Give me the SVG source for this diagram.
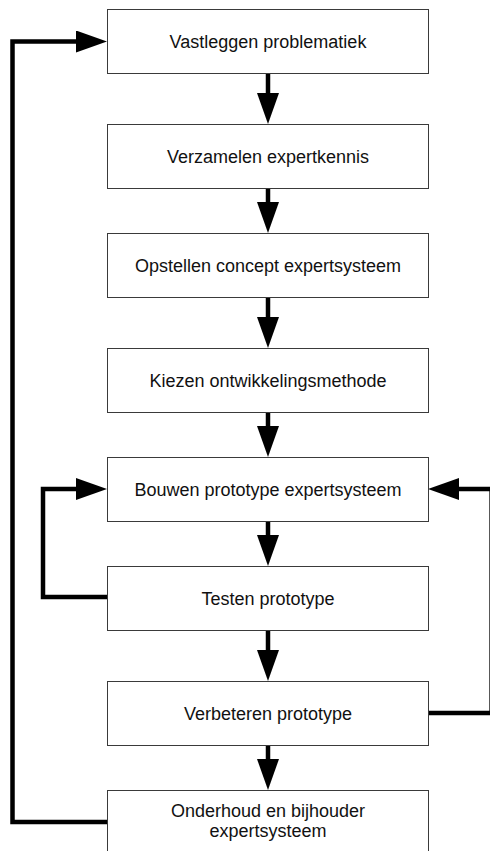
<svg xmlns="http://www.w3.org/2000/svg" width="490" height="851" viewBox="0 0 490 851">
  <style>
    .box { fill: #ffffff; stroke: #3a3a3a; stroke-width: 1; }
    .lbl { font-family: "Liberation Sans", Arial, sans-serif; font-size: 18px; fill: #111111; text-anchor: middle; }
    .flow { fill: none; stroke: #000000; stroke-width: 4.5; stroke-linejoin: miter; marker-end: url(#head); }
  </style>
  <defs>
    <marker id="head" viewBox="0 0 31 22" refX="6" refY="11" markerWidth="31" markerHeight="22" markerUnits="userSpaceOnUse" orient="auto">
      <path d="M0,0 L31,11 L0,22 Z" fill="#000000"/>
    </marker>
  </defs>

  <rect width="490" height="851" fill="#ffffff"/>

  <!-- connectors -->
  <g id="connectors">
    <path class="flow" d="M268,73 V99"/>
    <path class="flow" d="M268,188 V208"/>
    <path class="flow" d="M268,297 V323"/>
    <path class="flow" d="M268,412 V432"/>
    <path class="flow" d="M268,521 V541"/>
    <path class="flow" d="M268,630 V656"/>
    <path class="flow" d="M268,745 V765"/>
    <!-- test loop back to building the prototype -->
    <path class="flow" d="M107,597 H43 V489 H82"/>
    <!-- improvement loop back to building the prototype -->
    <path class="flow" d="M428,713 H491.6 V489 H453"/>
    <!-- maintenance loop back to the start -->
    <path class="flow" d="M107,822 H12.5 V41.5 H82"/>
  </g>

  <g id="n1">
    <rect class="box" x="107.5" y="9.5" width="321" height="64"/>
    <text class="lbl" x="268" y="47.5">Vastleggen problematiek</text>
  </g>
  <g id="n2">
    <rect class="box" x="107.5" y="124.5" width="321" height="64"/>
    <text class="lbl" x="268" y="162.5">Verzamelen expertkennis</text>
  </g>
  <g id="n3">
    <rect class="box" x="107.5" y="233.5" width="321" height="64"/>
    <text class="lbl" x="268" y="271.5">Opstellen concept expertsysteem</text>
  </g>
  <g id="n4">
    <rect class="box" x="107.5" y="348.5" width="321" height="64"/>
    <text class="lbl" x="268" y="386.5">Kiezen ontwikkelingsmethode</text>
  </g>
  <g id="n5">
    <rect class="box" x="107.5" y="457.5" width="321" height="64"/>
    <text class="lbl" x="268" y="495.5">Bouwen prototype expertsysteem</text>
  </g>
  <g id="n6">
    <rect class="box" x="107.5" y="566.5" width="321" height="64"/>
    <text class="lbl" x="268" y="604.5">Testen prototype</text>
  </g>
  <g id="n7">
    <rect class="box" x="107.5" y="681.5" width="321" height="64"/>
    <text class="lbl" x="268" y="719.5">Verbeteren prototype</text>
  </g>
  <g id="n8">
    <rect class="box" x="107.5" y="790.5" width="321" height="64"/>
    <text class="lbl" x="268" y="817">Onderhoud en bijhouder</text>
    <text class="lbl" x="268" y="837">expertsysteem</text>
  </g>
</svg>
